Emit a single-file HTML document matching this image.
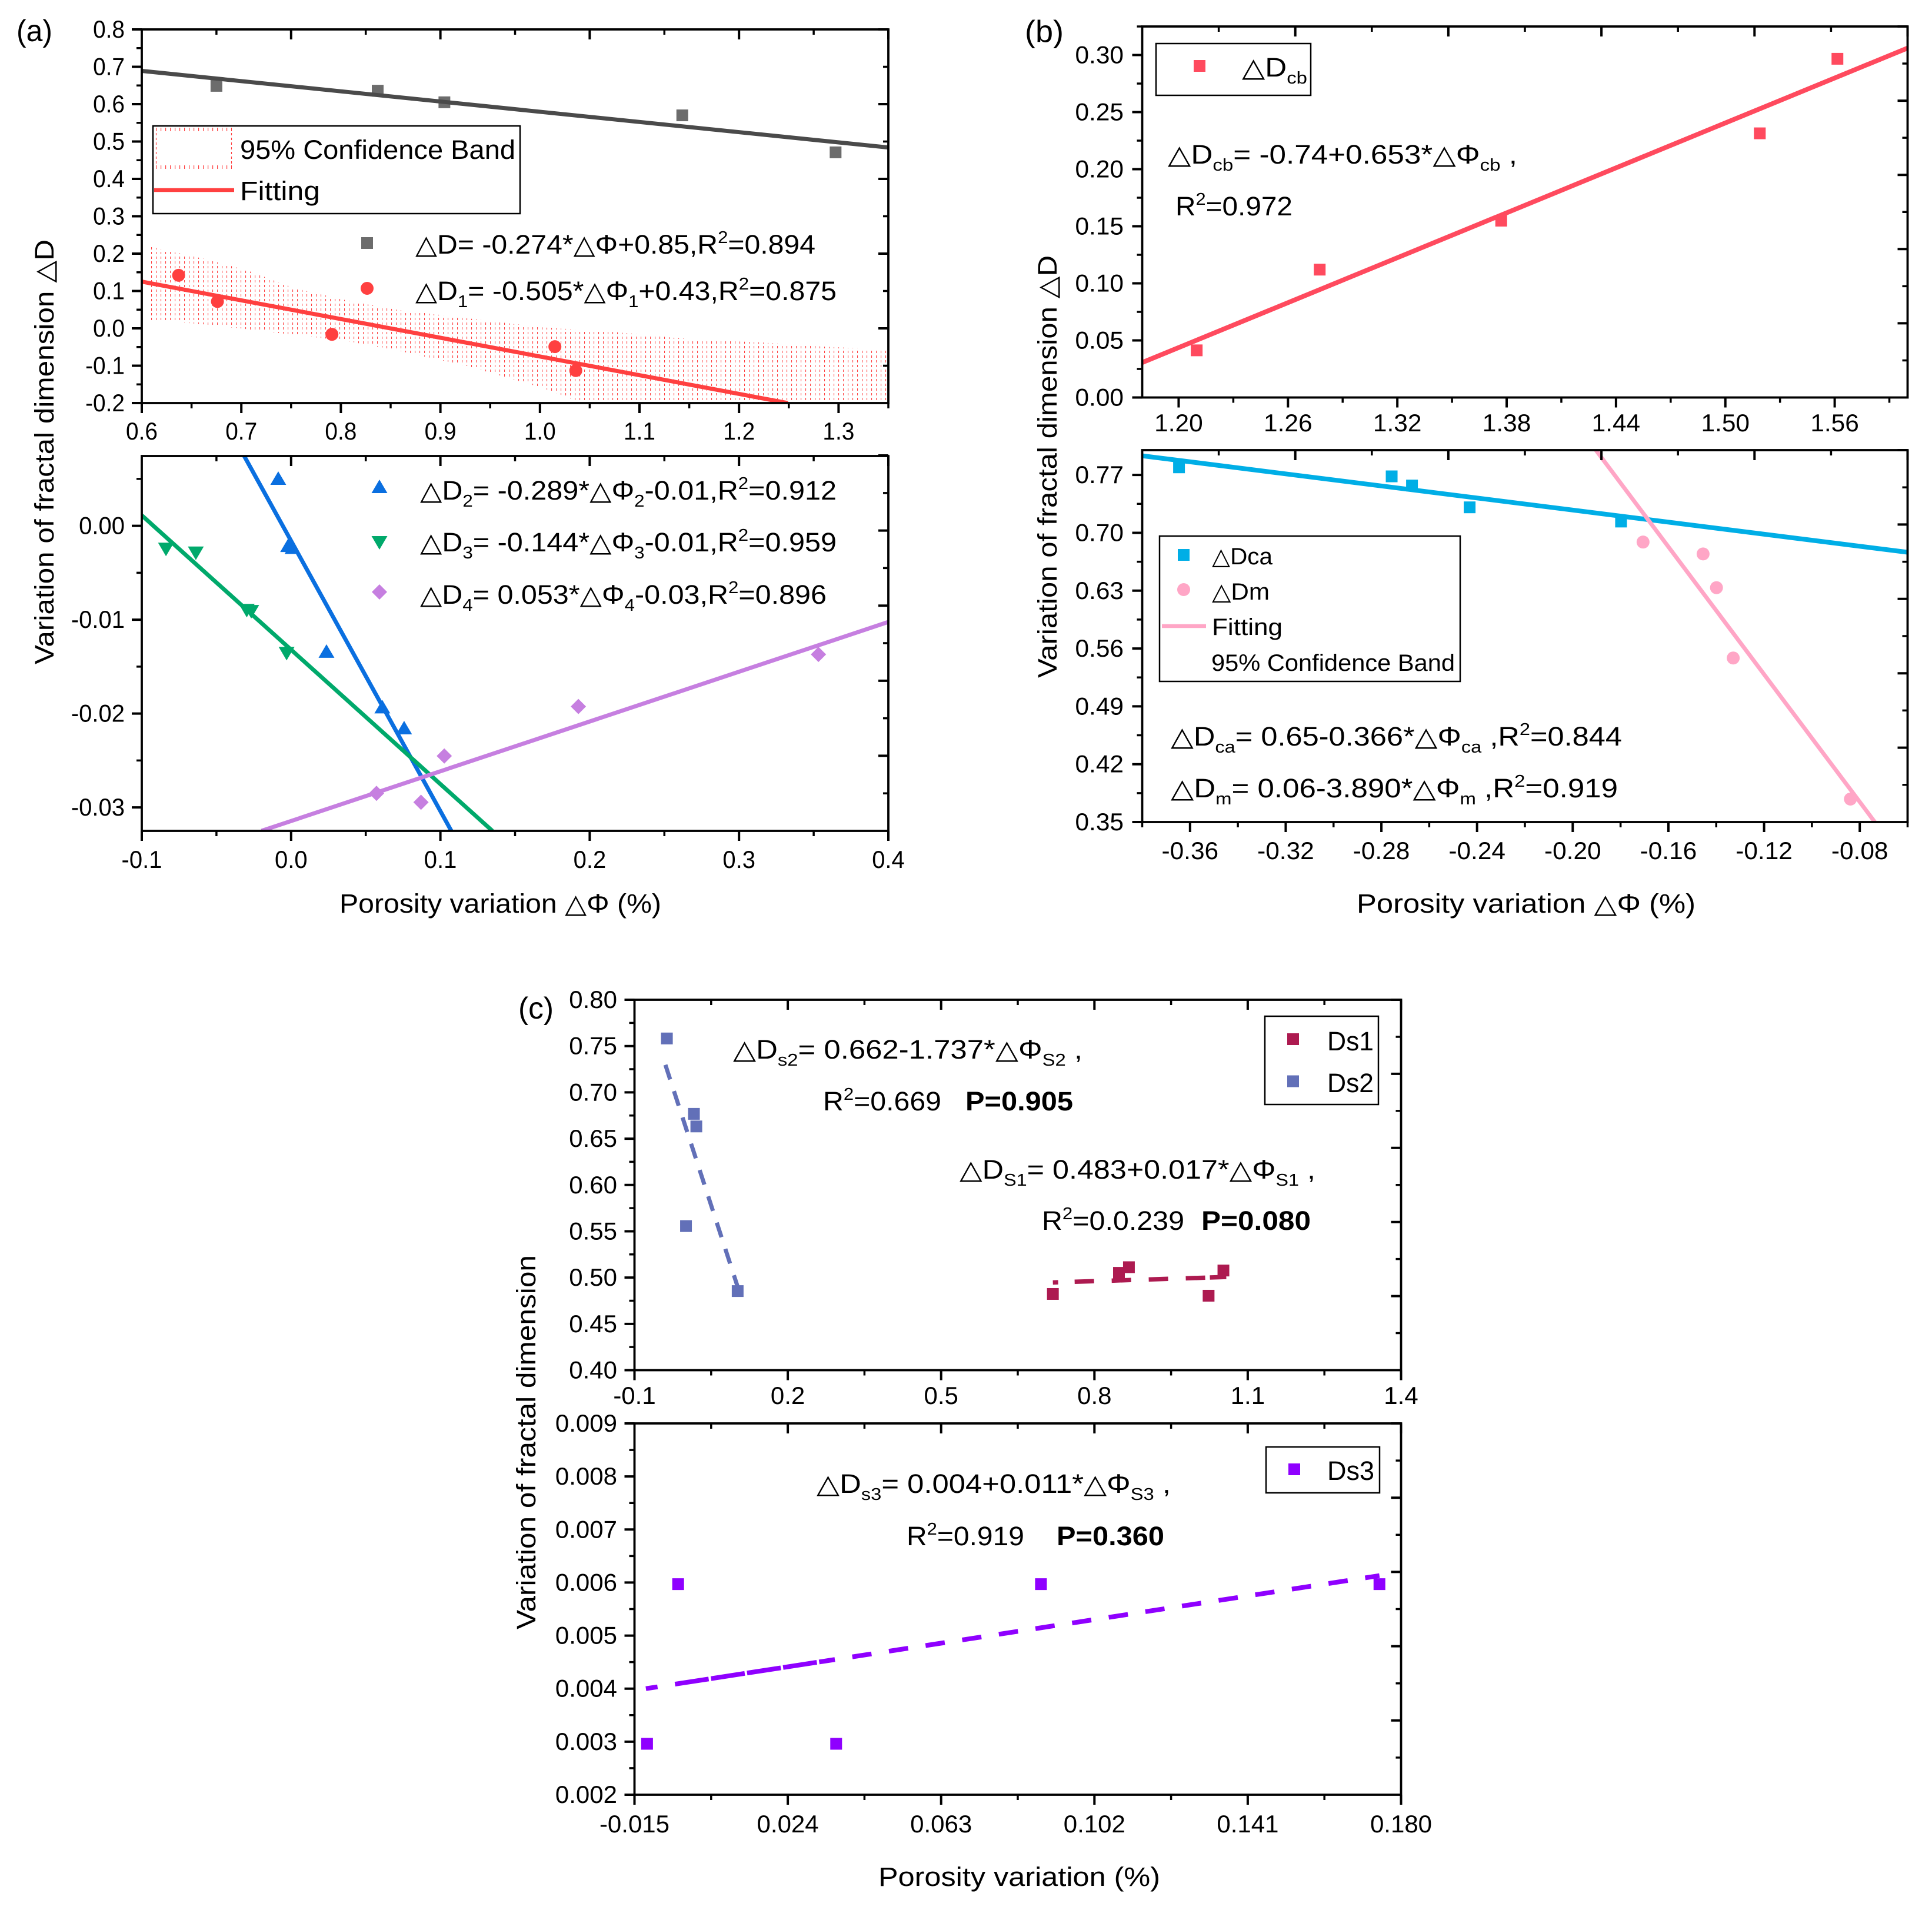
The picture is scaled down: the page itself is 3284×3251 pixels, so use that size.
<!DOCTYPE html>
<html lang="en">
<head>
<meta charset="utf-8">
<title>Fractal dimension variation vs porosity variation</title>
<style>
html,body{margin:0;padding:0;background:#fff;}
svg{display:block;}
text{font-family:"Liberation Sans","DejaVu Sans",sans-serif;fill:#000;}
</style>
</head>
<body>
<svg id="figure" xmlns="http://www.w3.org/2000/svg" width="3284" height="3251" viewBox="0 0 3284 3251">
<defs>
<pattern id="bandPattern" patternUnits="userSpaceOnUse" width="8" height="8">
<rect x="1" y="4" width="1.1" height="4" fill="#ff4040"/>
</pattern>
</defs>
<rect width="3284" height="3251" fill="#fff"/>
<g id="plots"></g>

<text x="28" y="70" font-size="52" textLength="61" lengthAdjust="spacingAndGlyphs">(a)</text>
<text x="1742" y="71" font-size="52" textLength="66" lengthAdjust="spacingAndGlyphs">(b)</text>
<text x="881" y="1731" font-size="52" textLength="60" lengthAdjust="spacingAndGlyphs">(c)</text>

<text transform="translate(91 1129) rotate(-90)" font-size="45" textLength="722" lengthAdjust="spacingAndGlyphs">Variation of fractal dimension △D</text>
<text x="577" y="1551" font-size="45" textLength="547" lengthAdjust="spacingAndGlyphs">Porosity variation △Φ (%)</text>
<text transform="translate(1796 1152) rotate(-90)" font-size="45" textLength="718" lengthAdjust="spacingAndGlyphs">Variation of fractal dimension △D</text>
<text x="2306" y="1551" font-size="45" textLength="576" lengthAdjust="spacingAndGlyphs">Porosity variation △Φ (%)</text>
<text transform="translate(910 2769) rotate(-90)" font-size="45" textLength="636" lengthAdjust="spacingAndGlyphs">Variation of fractal dimension</text>
<text x="1493" y="3205" font-size="45" textLength="479" lengthAdjust="spacingAndGlyphs">Porosity variation (%)</text>

<g>
<rect x="260" y="214" width="624" height="149" fill="#fff" stroke="#000" stroke-width="2.5"/>
<path d="M265 220H394M265 284H394" fill="none" stroke="#ff4040" stroke-width="6" stroke-dasharray="1.2 6.8"/>
<path d="M265.500 226V282M393.500 218V284" fill="none" stroke="#ff4040" stroke-width="1.2" stroke-dasharray="4 4"/>
<line x1="262" y1="323" x2="398" y2="323" stroke="#ff4040" stroke-width="6.500"/>
<text x="408" y="270" font-size="45" textLength="468" lengthAdjust="spacingAndGlyphs">95% Confidence Band</text>
<text x="408" y="340" font-size="45" textLength="136" lengthAdjust="spacingAndGlyphs">Fitting</text>
</g>

<text x="706" y="431" font-size="45" textLength="680" lengthAdjust="spacingAndGlyphs">△D= -0.274*△Φ+0.85,R<tspan dy="-18" font-size="29">2</tspan><tspan dy="18">=0.894</tspan></text>
<text x="706" y="510" font-size="45" textLength="716" lengthAdjust="spacingAndGlyphs">△D<tspan dy="12" font-size="29">1</tspan><tspan dy="-12">= -0.505*△Φ</tspan><tspan dy="12" font-size="29">1</tspan><tspan dy="-12">+0.43,R</tspan><tspan dy="-18" font-size="29">2</tspan><tspan dy="18">=0.875</tspan></text>
<text x="714" y="849" font-size="45" textLength="708" lengthAdjust="spacingAndGlyphs">△D<tspan dy="12" font-size="29">2</tspan><tspan dy="-12">= -0.289*△Φ</tspan><tspan dy="12" font-size="29">2</tspan><tspan dy="-12">-0.01,R</tspan><tspan dy="-18" font-size="29">2</tspan><tspan dy="18">=0.912</tspan></text>
<text x="714" y="937" font-size="45" textLength="708" lengthAdjust="spacingAndGlyphs">△D<tspan dy="12" font-size="29">3</tspan><tspan dy="-12">= -0.144*△Φ</tspan><tspan dy="12" font-size="29">3</tspan><tspan dy="-12">-0.01,R</tspan><tspan dy="-18" font-size="29">2</tspan><tspan dy="18">=0.959</tspan></text>
<text x="714" y="1026" font-size="45" textLength="691" lengthAdjust="spacingAndGlyphs">△D<tspan dy="12" font-size="29">4</tspan><tspan dy="-12">= 0.053*△Φ</tspan><tspan dy="12" font-size="29">4</tspan><tspan dy="-12">-0.03,R</tspan><tspan dy="-18" font-size="29">2</tspan><tspan dy="18">=0.896</tspan></text>

<g>
<rect x="1965" y="74" width="263" height="88" fill="none" stroke="#000" stroke-width="2.5"/>
<text x="2111" y="130" font-size="45" textLength="111" lengthAdjust="spacingAndGlyphs">△D<tspan dy="12" font-size="29">cb</tspan></text>
</g>
<text x="1985" y="278" font-size="45" textLength="594" lengthAdjust="spacingAndGlyphs">△D<tspan dy="12" font-size="29">cb</tspan><tspan dy="-12">= -0.74+0.653*△Φ</tspan><tspan dy="12" font-size="29">cb</tspan><tspan dy="-12"> ,</tspan></text>
<text x="1998" y="366" font-size="45" textLength="199" lengthAdjust="spacingAndGlyphs">R<tspan dy="-18" font-size="29">2</tspan><tspan dy="18">=0.972</tspan></text>

<g>
<rect x="1971" y="911" width="511" height="247" fill="#fff" stroke="#000" stroke-width="2.5"/>
<line x1="1975" y1="1064" x2="2050" y2="1064" stroke="#ffa6c6" stroke-width="6.500"/>
<text x="2060" y="959" font-size="40" textLength="103" lengthAdjust="spacingAndGlyphs">△Dca</text>
<text x="2060" y="1019" font-size="40" textLength="98" lengthAdjust="spacingAndGlyphs">△Dm</text>
<text x="2060" y="1079" font-size="40" textLength="120" lengthAdjust="spacingAndGlyphs">Fitting</text>
<text x="2059" y="1140" font-size="40" textLength="414" lengthAdjust="spacingAndGlyphs">95% Confidence Band</text>
</g>
<text x="1990" y="1267" font-size="45" textLength="767" lengthAdjust="spacingAndGlyphs">△D<tspan dy="12" font-size="29">ca</tspan><tspan dy="-12">= 0.65-0.366*△Φ</tspan><tspan dy="12" font-size="29">ca</tspan><tspan dy="-12"> ,R</tspan><tspan dy="-18" font-size="29">2</tspan><tspan dy="18">=0.844</tspan></text>
<text x="1990" y="1355" font-size="45" textLength="760" lengthAdjust="spacingAndGlyphs">△D<tspan dy="12" font-size="29">m</tspan><tspan dy="-12">= 0.06-3.890*△Φ</tspan><tspan dy="12" font-size="29">m</tspan><tspan dy="-12"> ,R</tspan><tspan dy="-18" font-size="29">2</tspan><tspan dy="18">=0.919</tspan></text>

<g>
<rect x="2150" y="1727" width="193" height="150" fill="none" stroke="#000" stroke-width="2.5"/>
<text x="2256" y="1785" font-size="45" textLength="79" lengthAdjust="spacingAndGlyphs">Ds1</text>
<text x="2256" y="1856" font-size="45" textLength="79" lengthAdjust="spacingAndGlyphs">Ds2</text>
</g>
<text x="1246" y="1799" font-size="45" textLength="594" lengthAdjust="spacingAndGlyphs">△D<tspan dy="12" font-size="29">s2</tspan><tspan dy="-12">= 0.662-1.737*△Φ</tspan><tspan dy="12" font-size="29">S2</tspan><tspan dy="-12"> ,</tspan></text>
<text x="1399" y="1887" font-size="45" textLength="201" lengthAdjust="spacingAndGlyphs">R<tspan dy="-18" font-size="29">2</tspan><tspan dy="18">=0.669</tspan></text>
<text x="1641" y="1887" font-size="45" font-weight="bold" textLength="183" lengthAdjust="spacingAndGlyphs">P=0.905</text>
<text x="1631" y="2003" font-size="45" textLength="605" lengthAdjust="spacingAndGlyphs">△D<tspan dy="12" font-size="29">S1</tspan><tspan dy="-12">= 0.483+0.017*△Φ</tspan><tspan dy="12" font-size="29">S1</tspan><tspan dy="-12"> ,</tspan></text>
<text x="1771" y="2090" font-size="45" textLength="242" lengthAdjust="spacingAndGlyphs">R<tspan dy="-18" font-size="29">2</tspan><tspan dy="18">=0.0.239</tspan></text>
<text x="2042" y="2090" font-size="45" font-weight="bold" textLength="186" lengthAdjust="spacingAndGlyphs">P=0.080</text>

<g>
<rect x="2152" y="2459" width="193" height="78" fill="none" stroke="#000" stroke-width="2.5"/>
<text x="2256" y="2515" font-size="45" textLength="80" lengthAdjust="spacingAndGlyphs">Ds3</text>
</g>
<text x="1388" y="2537" font-size="45" textLength="602" lengthAdjust="spacingAndGlyphs">△D<tspan dy="12" font-size="29">s3</tspan><tspan dy="-12">= 0.004+0.011*△Φ</tspan><tspan dy="12" font-size="29">S3</tspan><tspan dy="-12"> ,</tspan></text>
<text x="1541" y="2626" font-size="45" textLength="200" lengthAdjust="spacingAndGlyphs">R<tspan dy="-18" font-size="29">2</tspan><tspan dy="18">=0.919</tspan></text>
<text x="1796" y="2626" font-size="45" font-weight="bold" textLength="183" lengthAdjust="spacingAndGlyphs">P=0.360</text>
</svg>

<script>
/* ---------- panel (a) upper ---------- */
const aTopXDomain = [0.6, 1.35];
const aTopYDomain = [-0.2, 0.8];
const aTopXLabels = ['0.6','0.7','0.8','0.9','1.0','1.1','1.2','1.3'];
const aTopYLabels = ['-0.2','-0.1','0.0','0.1','0.2','0.3','0.4','0.5','0.6','0.7','0.8'];
const dX = [0.675, 0.837, 0.904, 1.143, 1.297];
const dY = [0.649, 0.636, 0.605, 0.570, 0.471];
const dFitX = [0.6, 1.35];
const dFitY = [0.689, 0.484];
const d1X = [0.637, 0.676, 0.791, 1.015, 1.036];
const d1Y = [0.142, 0.072, -0.016, -0.049, -0.113];
const d1FitX = [0.6, 1.249];
const d1FitY = [0.125, -0.2];
const bandX = [0.606, 0.661, 0.705, 0.754, 0.804, 0.853, 0.927, 1.001, 1.076, 1.150, 1.224, 1.286, 1.35];
const bandUpper = [0.220, 0.187, 0.156, 0.107, 0.076, 0.051, 0.027, 0.003, -0.010, -0.029, -0.038, -0.049, -0.057];
const bandLowerX = [0.606, 0.661, 0.705, 0.754, 0.804, 0.853, 0.927, 1.001, 1.033, 1.045, 1.35];
const bandLower = [0.023, 0.011, -0.002, -0.018, -0.033, -0.057, -0.101, -0.158, -0.19, -0.205, -0.45];

/* ---------- panel (a) lower ---------- */
const aBotXDomain = [-0.1, 0.4];
const aBotYDomain = [-0.0325, 0.00744];
const aBotXLabels = ['-0.1','0.0','0.1','0.2','0.3','0.4'];
const aBotYLabels = ['-0.03','-0.02','-0.01','0.00'];
const d2X = [-0.0086, -0.002, 0.001, 0.0237, 0.0611, 0.0757];
const d2Y = [0.00506, -0.0021, -0.0023, -0.01337, -0.01929, -0.02153];
const d2FitX = [-0.0314, 0.1073];
const d2FitY = [0.00744, -0.0325];
const d3X = [-0.0838, -0.0638, -0.0297, -0.0267, -0.0030];
const d3Y = [-0.00248, -0.00289, -0.0090, -0.00912, -0.01359];
const d3FitX = [-0.1, 0.1348];
const d3FitY = [0.00112, -0.0325];
const d4X = [0.0572, 0.087, 0.1026, 0.1924, 0.3532];
const d4Y = [-0.0285, -0.02945, -0.02452, -0.01925, -0.0137];
const d4FitX = [-0.0198, 0.4];
const d4FitY = [-0.0325, -0.01024];

/* ---------- panel (b) upper ---------- */
const bTopXDomain = [1.18, 1.60];
const bTopYDomain = [0, 0.325];
const bTopXLabels = ['1.20','1.26','1.32','1.38','1.44','1.50','1.56'];
const bTopYLabels = ['0.00','0.05','0.10','0.15','0.20','0.25','0.30'];
const dcbX = [1.2099, 1.2774, 1.377, 1.5189, 1.5615];
const dcbY = [0.0413, 0.1120, 0.1549, 0.2314, 0.2967];
const dcbFitX = [1.18, 1.60];
const dcbFitY = [0.0306, 0.3061];

/* ---------- panel (b) lower ---------- */
const bBotXDomain = [-0.38, -0.06];
const bBotYDomain = [0.35, 0.80];
const bBotXLabels = ['-0.36','-0.32','-0.28','-0.24','-0.20','-0.16','-0.12','-0.08'];
const bBotYLabels = ['0.35','0.42','0.49','0.56','0.63','0.70','0.77'];
const dcaX = [-0.3646, -0.2757, -0.2672, -0.2431, -0.1798];
const dcaY = [0.7792, 0.7683, 0.7572, 0.7308, 0.7136];
const dcaFitX = [-0.38, -0.06];
const dcaFitY = [0.7932, 0.6764];
const dmX = [-0.1706, -0.1455, -0.1399, -0.1329, -0.0839];
const dmY = [0.6888, 0.6744, 0.6336, 0.5485, 0.3778];
const dmFitX = [-0.1903, -0.0737];
const dmFitY = [0.80, 0.35];

/* ---------- panel (c) upper ---------- */
const cTopXDomain = [-0.1, 1.4];
const cTopYDomain = [0.4, 0.8];
const cTopXLabels = ['-0.1','0.2','0.5','0.8','1.1','1.4'];
const cTopYLabels = ['0.40','0.45','0.50','0.55','0.60','0.65','0.70','0.75','0.80'];
const ds1X = [0.7187, 0.848, 0.8675, 1.0234, 1.0524];
const ds1Y = [0.4823, 0.5051, 0.5112, 0.4804, 0.5076];
const ds1FitX = [0.7187, 1.058];
const ds1FitY = [0.4947, 0.5006];
const ds2X = [-0.0366, 0.0163, 0.0210, 0.0008, 0.1019];
const ds2Y = [0.7582, 0.6768, 0.6632, 0.5556, 0.4854];
const ds2FitX = [-0.0395, 0.1019];
const ds2FitY = [0.7297, 0.49];

/* ---------- panel (c) lower ---------- */
const cBotXDomain = [-0.015, 0.180];
const cBotYDomain = [0.002, 0.009];
const cBotXLabels = ['-0.015','0.024','0.063','0.102','0.141','0.180'];
const cBotYLabels = ['0.002','0.003','0.004','0.005','0.006','0.007','0.008','0.009'];
const ds3X = [-0.0118, -0.0039, 0.0363, 0.0884, 0.1745];
const ds3Y = [0.00296, 0.00597, 0.00296, 0.00597, 0.00597];
const ds3FitX = [-0.0121, 0.1745];
const ds3FitY = [0.0040, 0.00613];

const SVG_NS = 'http://www.w3.org/2000/svg';
const root = document.getElementById('plots');

function make(tag, parent, attrs) {
  const node = document.createElementNS(SVG_NS, tag);
  for (const key in attrs) node.setAttribute(key, attrs[key]);
  parent.appendChild(node);
  return node;
}
function scale(domain, a, b) {
  return function (v) { return a + (v - domain[0]) * (b - a) / (domain[1] - domain[0]); };
}
function labelWidth(s, size, k) {
  let w = 0;
  for (const ch of s) w += ch === '.' ? 0.278 : ch === '-' ? 0.333 : 0.556;
  return w * size * k;
}
function tickPath(side, box, sx, sy, xDom, yDom, start, step, len) {
  let d = '';
  const dom = (side === 'top' || side === 'bottom') ? xDom : yDom;
  for (let v = start; v <= dom[1] + Math.abs(step) * 0.01; v += step) {
    if (side === 'bottom') d += 'M' + sx(v) + ' ' + box.y1 + 'v' + len;
    if (side === 'top') d += 'M' + sx(v) + ' ' + box.y0 + 'v' + len;
    if (side === 'left') d += 'M' + box.x0 + ' ' + sy(v) + 'h' + (-len);
    if (side === 'right') d += 'M' + box.x1 + ' ' + sy(v) + 'h' + (-len);
  }
  return d;
}
function drawMarker(parent, kind, px, py, color) {
  let m;
  if (kind === 'square') m = make('rect', parent, {x: px - 10, y: py - 10, width: 20, height: 20, fill: color});
  if (kind === 'circle') m = make('circle', parent, {cx: px, cy: py, r: 11, fill: color});
  if (kind === 'up') m = make('polygon', parent, {points: (px - 13.5) + ',' + (py + 11) + ' ' + (px + 13.5) + ',' + (py + 11) + ' ' + px + ',' + (py - 12), fill: color});
  if (kind === 'down') m = make('polygon', parent, {points: (px - 13.5) + ',' + (py - 11) + ' ' + (px + 13.5) + ',' + (py - 11) + ' ' + px + ',' + (py + 12), fill: color});
  if (kind === 'diamond') m = make('polygon', parent, {points: px + ',' + (py - 13) + ' ' + (px + 13) + ',' + py + ' ' + px + ',' + (py + 13) + ' ' + (px - 13) + ',' + py, fill: color});
  return m;
}
function drawScatter(g, name, xs, ys, sx, sy, kind, color) {
  xs.forEach(function (x, i) {
    const m = drawMarker(g, kind, sx(x), sy(ys[i]), color);
    
    
  });
}
function drawFit(g, name, xs, ys, sx, sy, color, width, dash) {
  const line = make('line', g, {x1: sx(xs[0]), y1: sy(ys[0]), x2: sx(xs[1]), y2: sy(ys[1]), stroke: color, 'stroke-width': width});
  if (dash) line.setAttribute('stroke-dasharray', dash);
  
  
}
function panel(opt) {
  const box = opt.box;
  const g = make('g', root, {});
  
  
  const sx = scale(opt.xDom, box.x0, box.x1);
  const sy = scale(opt.yDom, box.y1, box.y0);
  const clipId = opt.name + '-clip';
  const clip = make('clipPath', g, {id: clipId});
  make('rect', clip, {x: box.x0, y: box.y0, width: box.x1 - box.x0, height: box.y1 - box.y0});
  const marks = make('g', g, {'clip-path': 'url(#' + clipId + ')'});
  
  
  opt.draw(marks, sx, sy);

  /* ticks */
  const t = opt.ticks;
  let major = tickPath('bottom', box, sx, sy, opt.xDom, opt.yDom, t.bottom[0], t.bottom[1], 17)
    + tickPath('top', box, sx, sy, opt.xDom, opt.yDom, t.top[0], t.top[1], 17)
    + tickPath('left', box, sx, sy, opt.xDom, opt.yDom, t.left[0], t.left[1], 17)
    + tickPath('right', box, sx, sy, opt.xDom, opt.yDom, t.right[0], t.right[1], 17);
  let minor = tickPath('bottom', box, sx, sy, opt.xDom, opt.yDom, t.bottom[2], t.bottom[1], 9)
    + tickPath('top', box, sx, sy, opt.xDom, opt.yDom, t.top[2], t.top[1], 9)
    + tickPath('left', box, sx, sy, opt.xDom, opt.yDom, t.left[2], t.left[1], 9)
    + tickPath('right', box, sx, sy, opt.xDom, opt.yDom, t.right[2], t.right[1], 9);
  const majorTicks = make('path', g, {d: major, stroke: '#000', 'stroke-width': 4, fill: 'none'});
  
  
  const minorTicks = make('path', g, {d: minor, stroke: '#000', 'stroke-width': 3.5, fill: 'none'});
  
  
  const frame = make('rect', g, {x: box.x0, y: box.y0, width: box.x1 - box.x0, height: box.y1 - box.y0, fill: 'none', stroke: '#000', 'stroke-width': 3.8});
  
  

  /* tick labels */
  const size = 42;
  const widthSize = 40;
  opt.xLabels.forEach(function (s) {
    const tx = make('text', g, {x: sx(parseFloat(s)), y: opt.xLabelY, 'font-size': size, 'text-anchor': 'middle', textLength: labelWidth(s, widthSize, opt.k), lengthAdjust: 'spacingAndGlyphs'});
    tx.textContent = s;
    
    
  });
  opt.yLabels.forEach(function (s) {
    const tx = make('text', g, {x: opt.yLabelX, y: sy(parseFloat(s)) + 14, 'font-size': size, 'text-anchor': 'end', textLength: labelWidth(s, widthSize, opt.k), lengthAdjust: 'spacingAndGlyphs'});
    tx.textContent = s;
    
    
  });
}

panel({
  name: 'panel-a-upper', box: {x0: 241, x1: 1510, y0: 50, y1: 685},
  xDom: aTopXDomain, yDom: aTopYDomain, xLabels: aTopXLabels, yLabels: aTopYLabels,
  xLabelY: 747, yLabelX: 212, k: 0.97,
  ticks: {bottom: [0.6, 0.1, 0.65], top: [0.75, 0.15, 0.675], left: [-0.2, 0.1, -0.15], right: [0, 0.2, -0.1]},
  draw: function (g, sx, sy) {
    let d = '';
    bandX.forEach(function (x, i) { d += (i ? 'L' : 'M') + sx(x) + ' ' + sy(bandUpper[i]); });
    for (let i = bandLowerX.length - 1; i >= 0; i--) d += 'L' + sx(bandLowerX[i]) + ' ' + sy(bandLower[i]);
    const band = make('path', g, {d: d + 'Z', fill: 'url(#bandPattern)'});
    
    
    drawScatter(g, 'delta-d', dX, dY, sx, sy, 'square', '#6c6c6c');
    drawScatter(g, 'delta-d1', d1X, d1Y, sx, sy, 'circle', '#ff4040');
    drawFit(g, 'delta-d', dFitX, dFitY, sx, sy, '#4a4a4a', 7);
    drawFit(g, 'delta-d1', d1FitX, d1FitY, sx, sy, '#ff4040', 7);
  }
});
panel({
  name: 'panel-a-lower', box: {x0: 241, x1: 1510, y0: 775, y1: 1412},
  xDom: aBotXDomain, yDom: aBotYDomain, xLabels: aBotXLabels, yLabels: aBotYLabels,
  xLabelY: 1475, yLabelX: 212, k: 1,
  ticks: {bottom: [-0.1, 0.1, -0.05], top: [0, 0.1, -0.05], left: [-0.03, 0.01, -0.025], right: [-0.0245, 0.008, -0.0285]},
  draw: function (g, sx, sy) {
    drawScatter(g, 'delta-d2', d2X, d2Y, sx, sy, 'up', '#0a6fe0');
    drawScatter(g, 'delta-d3', d3X, d3Y, sx, sy, 'down', '#00a96b');
    drawScatter(g, 'delta-d4', d4X, d4Y, sx, sy, 'diamond', '#c67fe0');
    drawFit(g, 'delta-d2', d2FitX, d2FitY, sx, sy, '#0a6fe0', 7);
    drawFit(g, 'delta-d3', d3FitX, d3FitY, sx, sy, '#00a96b', 7);
    drawFit(g, 'delta-d4', d4FitX, d4FitY, sx, sy, '#c67fe0', 7);
  }
});
panel({
  name: 'panel-b-upper', box: {x0: 1941.5, x1: 3242.5, y0: 45, y1: 675.5},
  xDom: bTopXDomain, yDom: bTopYDomain, xLabels: bTopXLabels, yLabels: bTopYLabels,
  xLabelY: 733, yLabelX: 1910, k: 1.06,
  ticks: {bottom: [1.20, 0.06, 1.23], top: [1.264, 0.084, 1.222], left: [0, 0.05, 0.025], right: [0.065, 0.065, 0.0325]},
  draw: function (g, sx, sy) {
    drawScatter(g, 'delta-dcb', dcbX, dcbY, sx, sy, 'square', '#ff4a5e');
    drawFit(g, 'delta-dcb', dcbFitX, dcbFitY, sx, sy, '#ff4a5e', 8);
  }
});
panel({
  name: 'panel-b-lower', box: {x0: 1941.5, x1: 3242.5, y0: 765, y1: 1397},
  xDom: bBotXDomain, yDom: bBotYDomain, xLabels: bBotXLabels, yLabels: bBotYLabels,
  xLabelY: 1460, yLabelX: 1910, k: 1.06,
  ticks: {bottom: [-0.36, 0.04, -0.38], top: [-0.316, 0.064, -0.348], left: [0.35, 0.07, 0.385], right: [0.44, 0.09, 0.395]},
  draw: function (g, sx, sy) {
    drawScatter(g, 'delta-dca', dcaX, dcaY, sx, sy, 'square', '#00aee6');
    drawScatter(g, 'delta-dm', dmX, dmY, sx, sy, 'circle', '#ffa6c6');
    drawFit(g, 'delta-dca', dcaFitX, dcaFitY, sx, sy, '#00aee6', 8);
    drawFit(g, 'delta-dm', dmFitX, dmFitY, sx, sy, '#ffa6c6', 7);
  }
});
panel({
  name: 'panel-c-upper', box: {x0: 1078.5, x1: 2381.5, y0: 1699, y1: 2328.5},
  xDom: cTopXDomain, yDom: cTopYDomain, xLabels: cTopXLabels, yLabels: cTopYLabels,
  xLabelY: 2386, yLabelX: 1049, k: 1.05,
  ticks: {bottom: [-0.1, 0.3, 0.05], top: [0.2, 0.3, 0.05], left: [0.4, 0.05, 0.425], right: [0.48, 0.08, 0.44]},
  draw: function (g, sx, sy) {
    drawScatter(g, 'ds1', ds1X, ds1Y, sx, sy, 'square', '#ad1a50');
    drawScatter(g, 'ds2', ds2X, ds2Y, sx, sy, 'square', '#6270b8');
    drawFit(g, 'ds1', ds1FitX, ds1FitY, sx, sy, '#ad1a50', 7.5, '9 28 33 30 33 30 33 30 33 8 33');
    drawFit(g, 'ds2', ds2FitX, ds2FitY, sx, sy, '#6270b8', 7, '26 21');
  }
});
panel({
  name: 'panel-c-lower', box: {x0: 1078.5, x1: 2381.5, y0: 2419, y1: 3050},
  xDom: cBotXDomain, yDom: cBotYDomain, xLabels: cBotXLabels, yLabels: cBotYLabels,
  xLabelY: 3114, yLabelX: 1049, k: 1.05,
  ticks: {bottom: [-0.015, 0.039, 0.0045], top: [0.024, 0.039, 0.0045], left: [0.002, 0.001, 0.0025], right: [0.0034, 0.0014, 0.0027]},
  draw: function (g, sx, sy) {
    drawScatter(g, 'ds3', ds3X, ds3Y, sx, sy, 'square', '#8f00ff');
    drawFit(g, 'ds3', ds3FitX, ds3FitY, sx, sy, '#8f00ff', 8, '20 30 58 4 58 4 58 4 58 4 27 30 33 30 33 30 33 30 33 30 33 30 33 30 33 30 33 30 33 30 33 30 33 30 33 30 33 30 33 30 33 30 33 30');
  }
});

/* legend marker glyphs, drawn above the legend boxes */
const figure = document.getElementById('figure');
function legendMarker(name, kind, px, py, color) {
  const m = drawMarker(figure, kind, px, py, color);
  
  
}
legendMarker('legend-marker-d', 'square', 624, 413, '#6c6c6c');
legendMarker('legend-marker-d1', 'circle', 624, 490, '#ff4040');
legendMarker('legend-marker-d2', 'up', 645, 827, '#0a6fe0');
legendMarker('legend-marker-d3', 'down', 645, 922, '#00a96b');
legendMarker('legend-marker-d4', 'diamond', 645, 1006, '#c67fe0');
legendMarker('legend-marker-dcb', 'square', 2039, 112, '#ff4a5e');
legendMarker('legend-marker-dca', 'square', 2012, 943, '#00aee6');
legendMarker('legend-marker-dm', 'circle', 2012, 1002, '#ffa6c6');
legendMarker('legend-marker-ds1', 'square', 2198, 1766, '#ad1a50');
legendMarker('legend-marker-ds2', 'square', 2198, 1837.5, '#6270b8');
legendMarker('legend-marker-ds3', 'square', 2200, 2497, '#8f00ff');
</script>
</body>
</html>
